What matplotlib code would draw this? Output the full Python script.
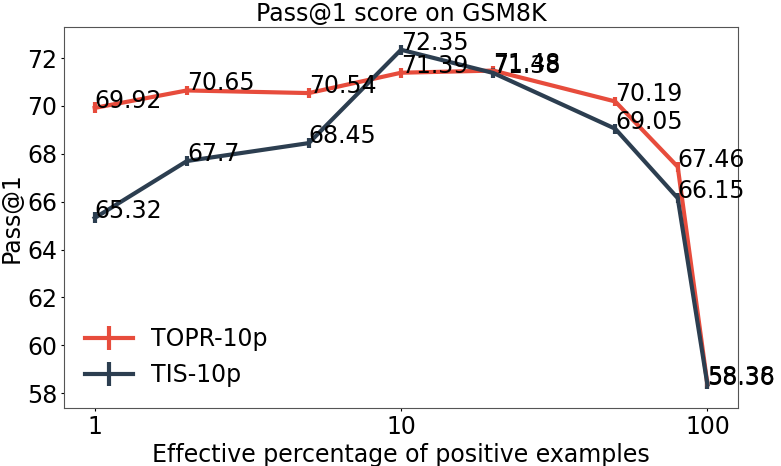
import matplotlib
matplotlib.use("Agg")
import matplotlib.pyplot as plt
from matplotlib.ticker import FixedLocator, FixedFormatter, NullLocator

# effective percentage of positive examples
pct = [1, 2, 5, 10, 20, 50, 80, 100]

topr = [69.92, 70.65, 70.54, 71.39, 71.48, 70.19, 67.46, 58.38]
tis = [65.32, 67.7, 68.45, 72.35, 71.38, 69.05, 66.15, 58.36]

# small spread shown as vertical bars at each point
topr_err = [0.23, 0.2, 0.2, 0.2, 0.2, 0.2, 0.2, 0.2]
tis_err = [0.23, 0.2, 0.2, 0.2, 0.2, 0.2, 0.2, 0.2]

xticks = [1, 10, 100]
xtick_labels = ["1", "10", "100"]

fs = 17

fig = plt.figure(figsize=(7.81, 4.66), dpi=100)
ax = fig.add_subplot(111)
fig.subplots_adjust(left=0.082, right=0.945, top=0.942, bottom=0.124)

ax.errorbar(pct, topr, yerr=topr_err, color="#e74c3c", lw=3, elinewidth=3,
            label="TOPR-10p")
ax.errorbar(pct, tis, yerr=tis_err, color="#2c3e50", lw=3, elinewidth=3,
            label="TIS-10p")

for x, y in zip(pct, topr):
    ax.text(x, y, str(y), fontsize=fs)
for x, y in zip(pct, tis):
    ax.text(x, y, str(y), fontsize=fs)

ax.set_xscale("log")
ax.xaxis.set_major_locator(FixedLocator(xticks))
ax.xaxis.set_major_formatter(FixedFormatter(xtick_labels))
ax.xaxis.set_minor_locator(NullLocator())
ax.set_ylim(57.37, 73.3)
ax.set_yticks([58, 60, 62, 64, 66, 68, 70, 72])

ax.tick_params(labelsize=fs, length=2.5, pad=2.5)
for s in ax.spines.values():
    s.set_edgecolor("#555555")

ax.set_title("Pass@1 score on GSM8K", fontsize=fs, pad=4)
ax.set_xlabel("Effective percentage of positive examples", fontsize=fs, labelpad=2.5)
ax.set_ylabel("Pass@1", fontsize=fs, labelpad=2.5)
ax.legend(loc="lower left", fontsize=fs, frameon=False)

fig.savefig("out.png", dpi=100)
